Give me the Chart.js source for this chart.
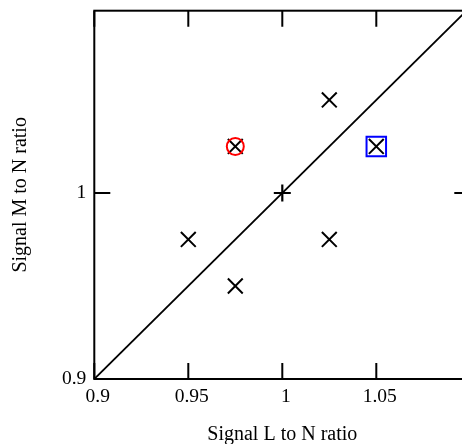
<!DOCTYPE html>
<html>
<head>
<meta charset="utf-8">
<script src="https://cdn.jsdelivr.net/npm/chart.js@4.4.1/dist/chart.umd.min.js"></script>
<style>
  html, body { margin: 0; padding: 0; background: #fff; overflow: hidden; }
  #wrap { width: 480px; height: 444px; }
</style>
</head>
<body>
<div id="wrap"><canvas id="myChart" width="480" height="444"></canvas></div>
<script>
const ctx = document.getElementById('myChart').getContext('2d');

// measured ratios (x = L/N, y = M/N)
const crossX = [0.975, 1.025, 0.95, 1.025, 0.975, 1.05];
const crossY = [1.025, 1.05, 0.975, 0.975, 0.95, 1.025];
const plusX = [1];
const plusY = [1];
const circleX = [0.975];
const circleY = [1.025];
const squareX = [1.05];
const squareY = [1.025];
const diagX = [0.9, 1.1];
const diagY = [0.9, 1.1];

const xTicks = [0.9, 0.95, 1, 1.05];
const yTicks = [0.9, 1];

const pts = (xs, ys) => xs.map((x, i) => ({x: x, y: ys[i]}));

const FONT = "'Liberation Serif', 'Times New Roman', serif";
const TICK_LEN = 16;

// gnuplot style box with inward ticks on all four sides
const frame = {
    id: 'frame',
    beforeDatasetsDraw(chart) {
        const {ctx, chartArea: a, scales: {x, y}} = chart;
        ctx.save();
        ctx.strokeStyle = '#000';
        ctx.lineWidth = 2;
        ctx.strokeRect(a.left, a.top, a.right - a.left, a.bottom - a.top);
        ctx.beginPath();
        xTicks.forEach(v => {
            const px = x.getPixelForValue(v);
            ctx.moveTo(px, a.bottom); ctx.lineTo(px, a.bottom - TICK_LEN);
            ctx.moveTo(px, a.top); ctx.lineTo(px, a.top + TICK_LEN);
        });
        yTicks.forEach(v => {
            const py = y.getPixelForValue(v);
            ctx.moveTo(a.left, py); ctx.lineTo(a.left + TICK_LEN, py);
            ctx.moveTo(a.right, py); ctx.lineTo(a.right - TICK_LEN, py);
        });
        ctx.stroke();
        ctx.restore();
    }
};

// fixed box sizes, no extra room reserved for edge labels
function fixBox(size) {
    return s => {
        if (s.isHorizontal()) s.height = size; else s.width = size;
        s.paddingTop = 0;
        s.paddingBottom = 0;
        s.paddingLeft = 0;
        s.paddingRight = 0;
    };
}

const data = {
    datasets: [
        {
            type: 'line',
            data: pts(diagX, diagY),
            borderColor: '#000',
            borderWidth: 1.8,
            pointRadius: 0,
            fill: false
        },
        {
            data: pts(circleX, circleY),
            pointStyle: 'circle',
            pointRadius: 8.5,
            borderColor: '#ff0000',
            backgroundColor: 'rgba(0,0,0,0)',
            borderWidth: 2
        },
        {
            data: pts(squareX, squareY),
            pointStyle: 'rect',
            pointRadius: 13.8,
            borderColor: '#0000ff',
            backgroundColor: 'rgba(0,0,0,0)',
            borderWidth: 2
        },
        {
            data: pts(crossX, crossY),
            pointStyle: 'crossRot',
            pointRadius: 10.5,
            borderColor: '#000',
            borderWidth: 2
        },
        {
            data: pts(plusX, plusY),
            pointStyle: 'cross',
            pointRadius: 8.5,
            borderColor: '#000',
            borderWidth: 2.2
        }
    ]
};

const config = {
    type: 'scatter',
    data: data,
    plugins: [frame],
    options: {
        responsive: false,
        animation: false,
        devicePixelRatio: 1,
        layout: {
            autoPadding: false,
            padding: { top: 10.7, right: 9.7, left: 0, bottom: 0 }
        },
        plugins: { legend: { display: false }, tooltip: { enabled: false } },
        scales: {
            x: {
                type: 'linear',
                min: 0.9,
                max: 1.1,
                grid: { display: false, drawTicks: false },
                border: { display: false },
                afterBuildTicks: s => { s.ticks = xTicks.map(v => ({value: v})); },
                afterFit: fixBox(65),
                ticks: {
                    color: '#000',
                    padding: 8,
                    labelOffset: 3.5,
                    maxRotation: 0,
                    font: { family: FONT, size: 19.5, lineHeight: 1 },
                    callback: v => String(v)
                },
                title: {
                    display: true,
                    text: 'Signal L to N ratio',
                    color: '#000',
                    padding: { top: 0, bottom: -0.5 },
                    font: { family: FONT, size: 20, lineHeight: 1 }
                }
            },
            y: {
                type: 'linear',
                min: 0.9,
                max: 1.098,
                grid: { display: false, drawTicks: false },
                border: { display: false },
                afterBuildTicks: s => { s.ticks = yTicks.map(v => ({value: v})); },
                afterFit: fixBox(94.3),
                ticks: {
                    color: '#000',
                    padding: 8,
                    font: { family: FONT, size: 19.5, lineHeight: 1 },
                    callback: v => String(v)
                },
                title: {
                    display: true,
                    text: 'Signal M to N ratio',
                    color: '#000',
                    padding: { top: 11, bottom: 0 },
                    font: { family: FONT, size: 20, lineHeight: 1 }
                }
            }
        }
    }
};

const myChart = new Chart(ctx, config);
</script>
</body>
</html>
